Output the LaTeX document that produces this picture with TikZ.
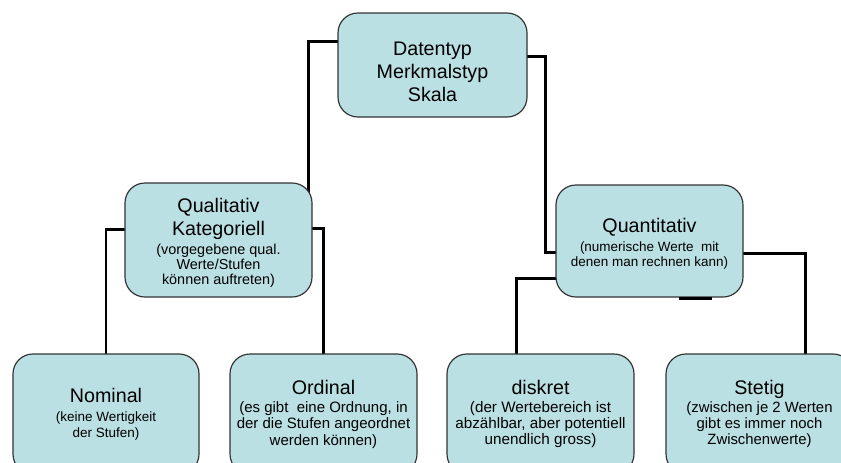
\documentclass[tikz,border=0pt]{standalone}
\usepackage{fontspec}
\setmainfont{Liberation Sans}
\definecolor{Kastenfarbe}{RGB}{187,224,228}
\newcommand{\Gross}{\fontsize{16.8}{19.6}\selectfont}
\newcommand{\Klein}[2]{\fontsize{#1}{#2}\selectfont\lineskiplimit=-50pt}
\usetikzlibrary{calc, backgrounds}

\begin{document}
\begin{tikzpicture}[x=0.03cm, y=-0.03cm,
  typbox/.style={rectangle, rounded corners=17pt,
                 draw=black!80, line width=1pt, fill=Kastenfarbe,
                 minimum width=5.61cm, inner sep=0pt, align=center,
                 font={\Klein{11.5}{13.6}}},
  verbinder/.style={line width=2.5pt, line cap=rect}
]

\useasboundingbox (0,0) rectangle (841,462);
\clip (0,0) rectangle (841,462);

%% --- OBERSTE EBENE ---
\node[typbox, minimum width=5.67cm, minimum height=3.12cm] (typ) at (432.5,65)
  {\Gross\rule{0pt}{23pt}Datentyp\\[6pt]\Gross Merkmalstyp\\[6pt]\Gross Skala};

%% --- MITTLERE EBENE ---
\node[typbox, minimum height=3.42cm, font={\Klein{12.3}{12.8}}] (qual) at (218.5,240)
  {\Gross\rule{0pt}{17pt}Qualitativ\\[6.5pt]\Gross Kategoriell\\[3.5pt]
   (vorgegebene qual.\\Werte/Stufen\\können auftreten)};

\node[typbox, minimum height=3.36cm, font={\Klein{11.5}{13.6}}] (quant) at (649.5,241)
  {\Gross\rule{0pt}{17pt}Quantitativ\\[2.5pt]
   (numerische Werte~ mit\\denen man rechnen kann)};

%% --- UNTERE EBENE ---
\node[typbox, minimum width=5.58cm, minimum height=3.6cm, font={\Klein{11.5}{13.6}}] (nom) at (106,414)
  {\Gross Nominal\\[2.5pt](keine Wertigkeit\\der Stufen)};

\node[typbox, minimum height=3.6cm, font={\Klein{12.8}{13.8}}] (ord) at (323.5,414)
  {\Gross Ordinal\\[2pt](es gibt~ eine Ordnung, in\\der die Stufen angeordnet\\werden können)};

\node[typbox, minimum height=3.6cm, font={\Klein{13}{13.6}}] (disk) at (540.5,414)
  {\Gross diskret\\[2pt](der Wertebereich ist\\abzählbar, aber potentiell\\unendlich gross)};

\node[typbox, minimum height=3.6cm, font={\Klein{12.7}{13.6}}] (stet) at (759.5,414)
  {\Gross Stetig\\[2pt](zwischen je 2 Werten\\gibt es immer noch\\Zwischenwerte)};

%% --- VERBINDUNGEN ---
\begin{scope}[on background layer]
  \draw[verbinder] ($(typ.north west)+(10,29)$) -| ($(qual.north east)+(-4,20)$);
  \draw[verbinder] ($(typ.north east)+(-10,44)$) -| ($(quant.north west)+(-10,68)$)
        -- ($(quant.north west)+(10,68)$);
  \draw[verbinder] ($(qual.north west)+(10,47)$) -| (nom.north);
  \draw[verbinder] ($(qual.north east)+(-10,46)$) -| (ord.north);
  \draw[verbinder] ($(quant.north west)+(10,94)$) -| ($(disk.north west)+(70,0)$);
  \draw[verbinder] ($(quant.north east)+(-10,69)$) -| ($(stet.north west)+(140,0)$);
\end{scope}

\draw[line width=2pt] ($(quant.south west)+(124,1)$) -- ($(quant.south west)+(157,1)$);

\end{tikzpicture}
\end{document}
